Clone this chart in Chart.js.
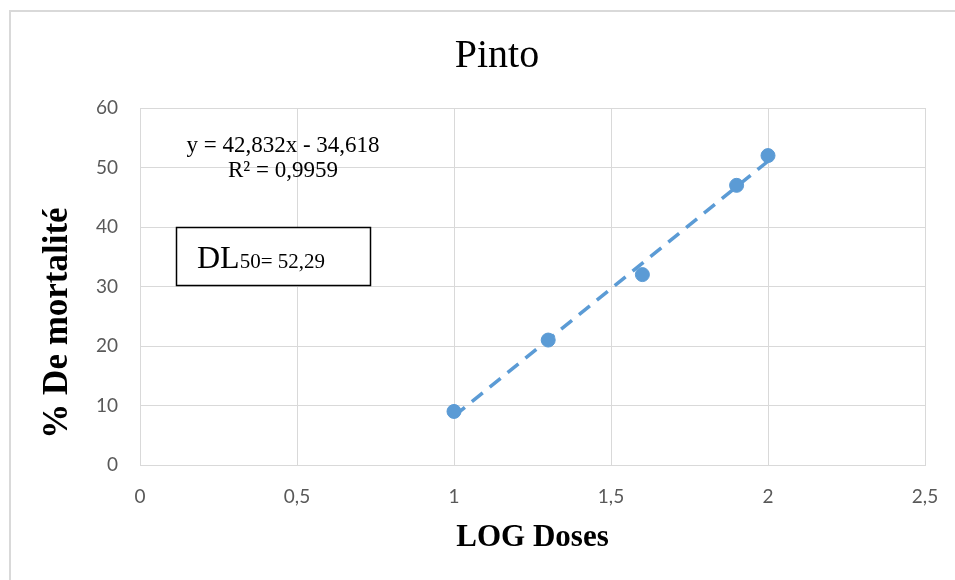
<!DOCTYPE html>
<html>
<head>
<meta charset="utf-8">
<script src="https://cdn.jsdelivr.net/npm/chart.js@4.4.1/dist/chart.umd.min.js"></script>
<style>
  html, body { margin: 0; padding: 0; background: #fff; }
</style>
</head>
<body>
<canvas id="myChart" width="955" height="580"></canvas>
<script>
// data
const logDoses = [1, 1.3, 1.6, 1.9, 2];
const mortality = [9, 21, 32, 47, 52];
// linear trendline (y = 42,832x - 34,618) end points
const trendX = [1, 2];
const trendY = [8.21, 51.05];
const xTicks = [0, 0.5, 1, 1.5, 2, 2.5];
const yTicks = [0, 10, 20, 30, 40, 50, 60];

const equationText = 'y = 42,832x - 34,618';
const r2Text = 'R² = 0,9959';
const yTitle = '% De mortalité';

const serif = '"Liberation Serif", "Times New Roman", serif';
const tickFont = { family: 'Lato, "Open Sans", sans-serif', size: 19 };

const frameAndNotes = {
    id: 'frameAndNotes',
    beforeDraw(chart) {
        const ctx = chart.ctx;
        ctx.save();
        ctx.fillStyle = '#fff';
        ctx.fillRect(0, 0, chart.width, chart.height);
        ctx.strokeStyle = '#d9d9d9';
        ctx.lineWidth = 2;
        ctx.strokeRect(10, 11, 1000, 1000);
        ctx.restore();
    },
    afterDraw(chart) {
        const ctx = chart.ctx;
        ctx.save();
        ctx.fillStyle = '#000';

        // trendline equation
        ctx.font = '23px ' + serif;
        ctx.textAlign = 'center';
        ctx.textBaseline = 'alphabetic';
        ctx.fillText(equationText, 283, 152);
        ctx.fillText(r2Text, 283, 177);

        // DL50 box
        ctx.fillStyle = '#fff';
        ctx.fillRect(176, 227, 194, 58);
        ctx.strokeStyle = '#000';
        ctx.lineWidth = 1.5;
        ctx.strokeRect(176.5, 227.5, 194, 58);
        ctx.fillStyle = '#000';
        ctx.textAlign = 'left';
        ctx.font = '32px ' + serif;
        ctx.fillText('DL', 197, 268);
        const w = ctx.measureText('DL').width;
        ctx.font = '21px ' + serif;
        ctx.fillText('50= 52,29', 197 + w, 268);

        // y axis title
        ctx.translate(58, 323);
        ctx.rotate(-Math.PI / 2);
        ctx.font = 'bold 35px ' + serif;
        ctx.textAlign = 'center';
        ctx.textBaseline = 'middle';
        ctx.fillText(yTitle, 0, 0);
        ctx.restore();
    }
};

const data = {
    datasets: [{
        label: 'Trend',
        type: 'line',
        data: trendX.map((x, i) => ({ x: x, y: trendY[i] })),
        borderColor: '#5b9bd5',
        borderWidth: 3.5,
        borderDash: [14, 9],
        pointRadius: 0,
        fill: false,
        order: 2
    }, {
        label: '% De mortalité',
        type: 'scatter',
        data: logDoses.map((x, i) => ({ x: x, y: mortality[i] })),
        backgroundColor: '#5b9bd5',
        borderColor: '#5b9bd5',
        pointRadius: 7,
        pointHoverRadius: 7,
        order: 1
    }]
};

const config = {
    type: 'scatter',
    data: data,
    options: {
        responsive: false,
        animation: false,
        layout: { padding: { left: 69, right: 30, top: 0, bottom: 0 } },
        plugins: {
            legend: { display: false },
            tooltip: { enabled: false },
            title: {
                display: true,
                text: 'Pinto',
                color: '#000',
                font: { family: serif, size: 40, weight: 'normal', lineHeight: 1.2 },
                padding: { top: 32, bottom: 28 }
            }
        },
        scales: {
            x: {
                type: 'linear',
                min: 0,
                max: 2.5,
                afterBuildTicks: (scale) => { scale.ticks = xTicks.map(v => ({ value: v })); },
                afterFit: (scale) => {
                    scale.height = 115;
                    scale.paddingRight = 0;
                },
                ticks: {
                    color: '#595959',
                    font: tickFont,
                    padding: 20,
                    callback: (v) => String(v).replace('.', ',')
                },
                grid: { color: '#d9d9d9', lineWidth: 1, drawTicks: false },
                border: { color: '#d9d9d9' },
                title: {
                    display: true,
                    text: 'LOG Doses',
                    color: '#000',
                    font: { family: serif, size: 31, weight: 'bold', lineHeight: 1.2 },
                    padding: { top: 0, bottom: 23 }
                }
            },
            y: {
                type: 'linear',
                min: 0,
                max: 60,
                afterBuildTicks: (scale) => { scale.ticks = yTicks.map(v => ({ value: v })); },
                afterFit: (scale) => { scale.width = 71; },
                ticks: {
                    color: '#595959',
                    font: tickFont,
                    padding: 22
                },
                grid: { color: '#d9d9d9', lineWidth: 1, drawTicks: false },
                border: { color: '#d9d9d9' }
            }
        }
    },
    plugins: [frameAndNotes]
};

const myChart = new Chart(document.getElementById('myChart'), config);
</script>
</body>
</html>
